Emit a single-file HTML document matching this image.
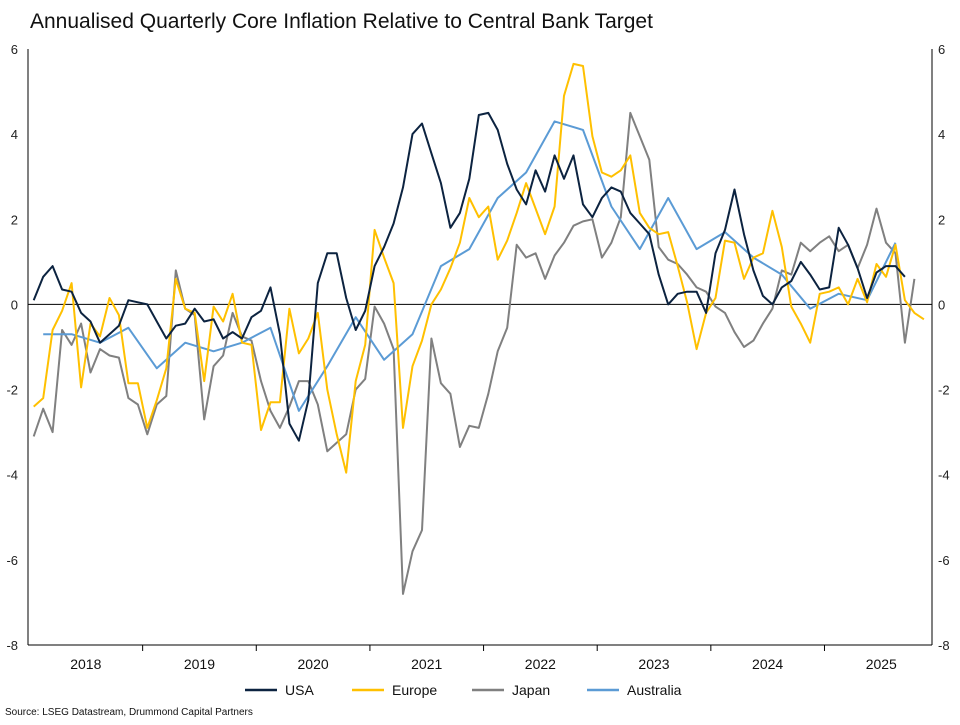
<!DOCTYPE html>
<html><head><meta charset="utf-8"><style>
body{margin:0;background:#fff;width:960px;height:720px;overflow:hidden;font-family:"Liberation Sans",sans-serif}
</style></head><body>
<svg id="chart" width="960" height="720" viewBox="0 0 960 720" xmlns="http://www.w3.org/2000/svg" font-family="Liberation Sans, sans-serif">
<text x="30" y="28" font-size="21" fill="#111">Annualised Quarterly Core Inflation Relative to Central Bank Target</text>
<text x="5" y="715" font-size="10" fill="#111">Source: LSEG Datastream, Drummond Capital Partners</text>
<g id="axes"></g>
<g id="series"></g>
<g id="legend"></g>
</svg>
<script>
const years = ["2018","2019","2020","2021","2022","2023","2024","2025"];
const yTicks = [6,4,2,0,-2,-4,-6,-8];
const usa = [0.1,0.65,0.9,0.35,0.3,-0.2,-0.4,-0.9,-0.7,-0.5,0.1,0.05,0,-0.4,-0.8,-0.5,-0.45,-0.1,-0.4,-0.35,-0.8,-0.65,-0.8,-0.3,-0.15,0.4,-0.7,-2.8,-3.2,-2.25,0.5,1.2,1.2,0.15,-0.6,-0.15,0.9,1.35,1.9,2.75,4.0,4.25,3.55,2.85,1.8,2.15,2.95,4.45,4.5,4.1,3.3,2.7,2.35,3.15,2.65,3.5,2.95,3.5,2.35,2.05,2.5,2.75,2.65,2.15,1.9,1.65,0.7,0.0,0.25,0.3,0.3,-0.2,1.2,1.75,2.7,1.65,0.8,0.2,0,0.4,0.55,1.0,0.7,0.35,0.4,1.8,1.4,0.85,0.15,0.75,0.9,0.9,0.65];
const europe = [-2.4,-2.2,-0.6,-0.15,0.5,-1.95,-0.45,-0.75,0.15,-0.25,-1.85,-1.85,-2.9,-2.25,-1.5,0.6,-0.1,-0.2,-1.8,-0.05,-0.4,0.25,-0.9,-0.95,-2.95,-2.3,-2.3,-0.1,-1.15,-0.8,-0.2,-2.0,-3.05,-3.95,-1.8,-0.95,1.75,1.1,0.5,-2.9,-1.45,-0.85,0.0,0.35,0.85,1.45,2.5,2.05,2.3,1.05,1.5,2.15,2.85,2.25,1.65,2.3,4.9,5.65,5.6,3.95,3.1,3.0,3.15,3.5,2.15,1.8,1.65,1.7,0.9,0.05,-1.05,-0.2,0.15,1.5,1.45,0.6,1.1,1.2,2.2,1.35,-0.05,-0.45,-0.9,0.25,0.3,0.4,0,0.6,0.05,0.95,0.65,1.4,0.1,-0.2,-0.35];
const japan = [-3.1,-2.45,-3.0,-0.6,-0.95,-0.45,-1.6,-1.05,-1.2,-1.25,-2.2,-2.35,-3.05,-2.35,-2.15,0.8,-0.1,-0.25,-2.7,-1.45,-1.2,-0.2,-0.75,-0.85,-1.8,-2.5,-2.9,-2.4,-1.8,-1.8,-2.35,-3.45,-3.25,-3.05,-2.0,-1.75,-0.05,-0.45,-1.05,-6.8,-5.8,-5.3,-0.8,-1.85,-2.1,-3.35,-2.85,-2.9,-2.1,-1.1,-0.55,1.4,1.1,1.2,0.6,1.15,1.45,1.85,1.95,2.0,1.1,1.45,2.05,4.5,3.95,3.4,1.35,1.05,0.95,0.7,0.4,0.3,-0.05,-0.2,-0.65,-1.0,-0.85,-0.45,-0.1,0.8,0.7,1.45,1.25,1.45,1.6,1.25,1.4,0.85,1.4,2.25,1.45,1.2,-0.9,0.6];
const australiaMonths = [1,4,7,10,13,16,19,22,25,28,31,34,37,40,43,46,49,52,55,58,61,64,67,70,73,76,79,82,85,88,91];
const australia = [-0.7,-0.7,-0.9,-0.55,-1.5,-0.9,-1.1,-0.9,-0.55,-2.5,-1.45,-0.3,-1.3,-0.7,0.9,1.3,2.5,3.1,4.3,4.1,2.3,1.3,2.5,1.3,1.7,1.1,0.7,-0.1,0.25,0.1,1.45];
const seriesNames = ["USA","Europe","Japan","Australia"];
const seriesColors = ["#0c2340","#ffc000","#808080","#5b9bd5"];

const NS="http://www.w3.org/2000/svg";
const L=28,R=932,T=49,B=645;
const yMin=-8,yMax=6;
function xScale(i){return 33.7+9.47*i;}
function yScale(v){return B-(v-yMin)/(yMax-yMin)*(B-T);}
function mk(tag,attrs,parent){const e=document.createElementNS(NS,tag);for(const k in attrs)e.setAttribute(k,attrs[k]);parent.appendChild(e);return e;}
const axes=document.getElementById('axes');
let l=mk('line',{x1:L,x2:L,y1:T,y2:B,stroke:'#000','stroke-width':1},axes);


l=mk('line',{x1:R,x2:R,y1:T,y2:B,stroke:'#000','stroke-width':1},axes);


l=mk('line',{x1:L,x2:R,y1:B,y2:B,stroke:'#000','stroke-width':1},axes);


l=mk('line',{x1:L,x2:R,y1:yScale(0),y2:yScale(0),stroke:'#000','stroke-width':1},axes);


yTicks.forEach(v=>{
  let t=mk('text',{x:L-10,y:yScale(v)+5,'font-size':13,'text-anchor':'end',fill:'#222'},axes);t.textContent=v;
  
  
  t=mk('text',{x:R+6,y:yScale(v)+5,'font-size':13,'text-anchor':'start',fill:'#222'},axes);t.textContent=v;
  
  
});
years.forEach((y,k)=>{
  const x0=xScale(12*k)-4.7;
  if(k>0){const tk=mk('line',{x1:x0,x2:x0,y1:B,y2:B+6,stroke:'#000'},axes);
    
    }
  const t=mk('text',{x:x0+56.8,y:B+24,'font-size':14,'text-anchor':'middle',fill:'#111'},axes);t.textContent=y;
  
  
});
const sg=document.getElementById('series');
function draw(vals,idx,color,name){
  const d=vals.map((v,j)=>(j?'L':'M')+xScale(idx?idx[j]:j).toFixed(1)+' '+yScale(v).toFixed(1)).join(' ');
  const p=mk('path',{d:d,fill:'none',stroke:color,'stroke-width':2,'stroke-linejoin':'round'},sg);
  
  
}
draw(japan,null,seriesColors[2],'japan-line');
draw(australia,australiaMonths,seriesColors[3],'australia-line');
draw(europe,null,seriesColors[1],'europe-line');
draw(usa,null,seriesColors[0],'usa-line');
const lg=document.getElementById('legend');
const lx=[245,352,472,587];
seriesNames.forEach((n,k)=>{
  const ln=mk('line',{x1:lx[k],x2:lx[k]+32,y1:690,y2:690,stroke:seriesColors[k],'stroke-width':2.5},lg);
  
  
  const t=mk('text',{x:lx[k]+40,y:695,'font-size':14,fill:'#111'},lg);t.textContent=n;
  
  
});
</script>
</body></html>
